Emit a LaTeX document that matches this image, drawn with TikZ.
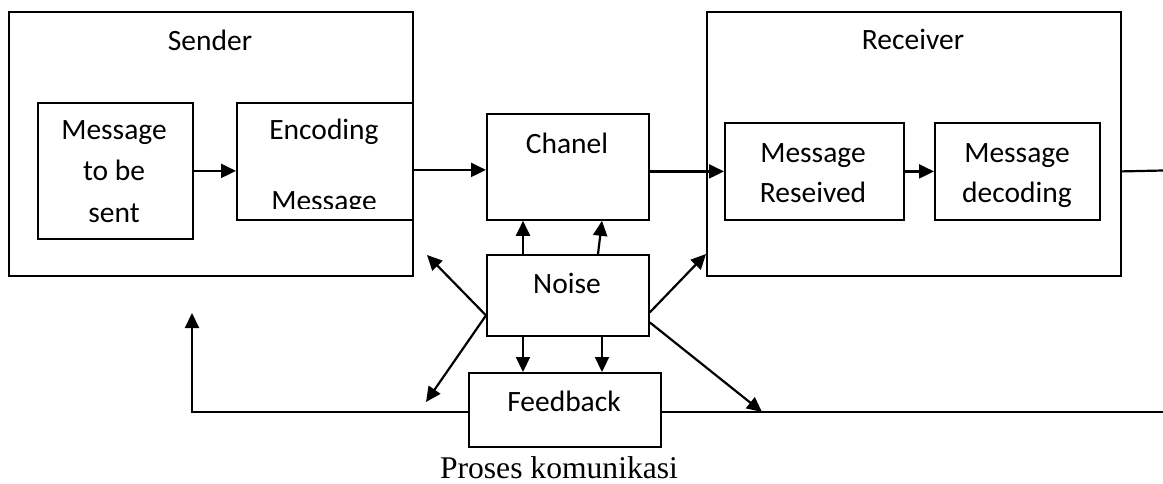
\documentclass[tikz,border=0pt]{standalone}
\usepackage{fontspec}
\setmainfont{Carlito}
\newfontfamily\captionfont{Liberation Serif}
\usetikzlibrary{arrows.meta,calc}
\begin{document}
\begin{tikzpicture}[x=1pt,y=-1pt,
  box/.style={draw, line width=1.8pt, inner sep=0pt, anchor=north west},
  txt/.style={anchor=base, inner sep=0pt, font=\fontsize{29.5}{41}\selectfont},
  ln/.style={line width=2.2pt},
  arr/.style={line width=2.2pt, -{Triangle[length=15pt,width=14pt]}}]
\useasboundingbox (0,0) rectangle (1163,483);

% sender side
\node[box, minimum width=404, minimum height=264] (sender) at (8,11) {};
\node[box, minimum width=155, minimum height=136] (msg) at (37,102) {};
\node[box, minimum width=176, minimum height=117] (enc) at (236,102) {};
\node[txt] (tsender) at (210,50) {Sender};
\node[txt] (tmsg1) at (114,139) {Message};
\node[txt] (tmsg2) at (114,180) {to be};
\node[txt] (tmsg3) at (114,222) {sent};
\node[txt] (tenc1) at (324,139) {Encoding};
\begin{scope}
  \clip (236,102) rectangle (412,208);
  \node[txt] (tenc2) at (324,210) {Message};
\end{scope}

% channel and noise
\node[box, minimum width=162, minimum height=106] (chanel) at (486,113) {};
\node[txt] (tchanel) at (567,153) {Chanel};
\node[box, minimum width=162, minimum height=81] (noise) at (486,254) {};
\node[txt] (tnoise) at (567,293) {Noise};
\node[box, minimum width=192, minimum height=74] (feedback) at (468,372) {};
\node[txt] (tfeedback) at (564,411) {Feedback};

% receiver side
\node[box, minimum width=414, minimum height=264] (receiver) at (706,11) {};
\node[box, minimum width=179, minimum height=97] (mrec) at (724,122) {};
\node[box, minimum width=165, minimum height=97] (mdec) at (934,122) {};
\node[txt] (trec) at (913,49) {Receiver};
\node[txt] (tmrec1) at (813,162) {Message};
\node[txt] (tmrec2) at (813,202) {Reseived};
\node[txt] (tmdec1) at (1017,162) {Message};
\node[txt] (tmdec2) at (1017,202) {decoding};

% caption
\node[anchor=base, inner sep=0pt, font=\captionfont\fontsize{31.6}{38}\selectfont] (caption) at (559,478) {Proses komunikasi};

% free ends
\coordinate (outR) at (1163,170.5);
\coordinate (fbL) at (192,412);
\coordinate (fbUp) at (192,313);
\coordinate (fbR) at (1163,412);
\coordinate (nUL) at (427,255);
\coordinate (nDL) at (426,402);
\coordinate (nDR) at (762,412);
\coordinate (nUR) at (706,254);

% main flow
\draw[arr] (msg.east) -- (msg.east -| enc.west);
\draw[arr] ([yshift=-3pt]chanel.west -| sender.east) -- ([yshift=-3pt]chanel.west);
\draw[arr] (mrec.west -| chanel.east) -- (mrec.west);
\draw[arr] (mrec.east) -- (mdec.west);
\draw[ln] (mrec.west -| receiver.east) -- (outR);

% noise influences
\draw[arr] ([xshift=37pt]noise.north west) -- ([xshift=37pt]chanel.south west);
\draw[arr] ([xshift=112pt]noise.north west) -- ([xshift=116pt]chanel.south west);
\draw[arr] ([xshift=37pt]noise.south west) -- ([xshift=55pt]feedback.north west);
\draw[arr] ([xshift=116pt]noise.south west) -- ([xshift=134pt]feedback.north west);
\draw[arr] ([yshift=-20pt]noise.west) -- (nUL);
\draw[arr] ([yshift=-20pt]noise.west) -- (nDL);
\draw[arr] ([yshift=-17pt]noise.east) -- (nUR);
\draw[arr] ([yshift=-27pt]noise.east) -- (nDR);

% feedback loop
\draw[arr] (fbL -| feedback.west) -- (fbL) -- (fbUp);
\draw[ln] (fbL -| feedback.east) -- (fbR);
\end{tikzpicture}
\end{document}
